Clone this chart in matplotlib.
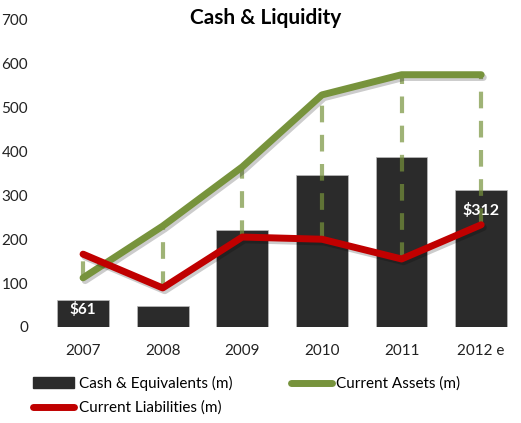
import matplotlib.pyplot as plt
import matplotlib.patheffects as pe
from matplotlib.lines import Line2D
from matplotlib.patches import Patch

years = ["2007", "2008", "2009", "2010", "2011", "2012 e"]
cash = [61, 48, 221, 346, 388, 312]
assets = [112, 230, 365, 529, 575, 575]
liabilities = [166, 89, 205, 200, 155, 233]

BAR = "#2b2b2b"
GREEN = "#77933c"
RED = "#c00000"

plt.rcParams["font.family"] = ["Lato", "DejaVu Sans"]

fig = plt.figure(figsize=(5.21, 4.23), dpi=100)
ax = fig.add_axes([0.083, 0.227, 0.917, 0.726])

x = list(range(len(years)))
shadow = [pe.SimpleLineShadow(offset=(1.5, -2), alpha=0.2), pe.Normal()]

ax.bar(x, cash, width=0.65, color=BAR, edgecolor="#bbbbbb", linewidth=0.5, zorder=2)

# high-low lines between the two line series
for xi, a, l in zip(x, assets, liabilities):
    ax.plot([xi, xi], [min(a, l), max(a, l)], color=GREEN, alpha=0.7, lw=3,
            dashes=(4, 3), zorder=3)

ax.plot(x, assets, color=GREEN, lw=5, solid_capstyle="round",
        solid_joinstyle="round", zorder=4, path_effects=shadow)
ax.plot(x, liabilities, color=RED, lw=5, solid_capstyle="round",
        solid_joinstyle="round", zorder=4, path_effects=shadow)

ax.text(x[0], cash[0] - 4, "$%d" % cash[0], color="white",
        fontsize=11, fontweight="bold", ha="center", va="top", zorder=5)
ax.text(x[-1], cash[-1] - 30, "$%d" % cash[-1], color="white",
        fontsize=11.5, fontweight="bold", ha="center", va="top", zorder=5)

ax.set_xlim(-0.5, len(years) - 0.5)
ax.set_ylim(0, 700)
ax.set_yticks(range(0, 701, 100))
ax.set_xticks(x)
ax.set_xticklabels(years)
for s in ax.spines.values():
    s.set_visible(False)
ax.tick_params(length=0, labelsize=11, colors="#222222")
ax.tick_params(axis="y", pad=11)
ax.tick_params(axis="x", pad=12)

fig.text(0.51, 0.957, "Cash & Liquidity", fontsize=15, fontweight="bold",
         ha="center", va="center")

handles = [
    Patch(facecolor=BAR, edgecolor=BAR),
    Line2D([], [], color=RED, lw=5, solid_capstyle="round"),
    Line2D([], [], color=GREEN, lw=5, solid_capstyle="round"),
]
labels = ["Cash & Equivalents (m)", "Current Liabilities (m)", "Current Assets (m)"]
fig.legend(handles, labels, ncol=2, loc="lower left", bbox_to_anchor=(0.037, -0.014),
           frameon=False, fontsize=11, handlelength=2.7, handletextpad=0.3,
           columnspacing=3.8, labelspacing=0.65)

fig.savefig("out.png", dpi=100)
